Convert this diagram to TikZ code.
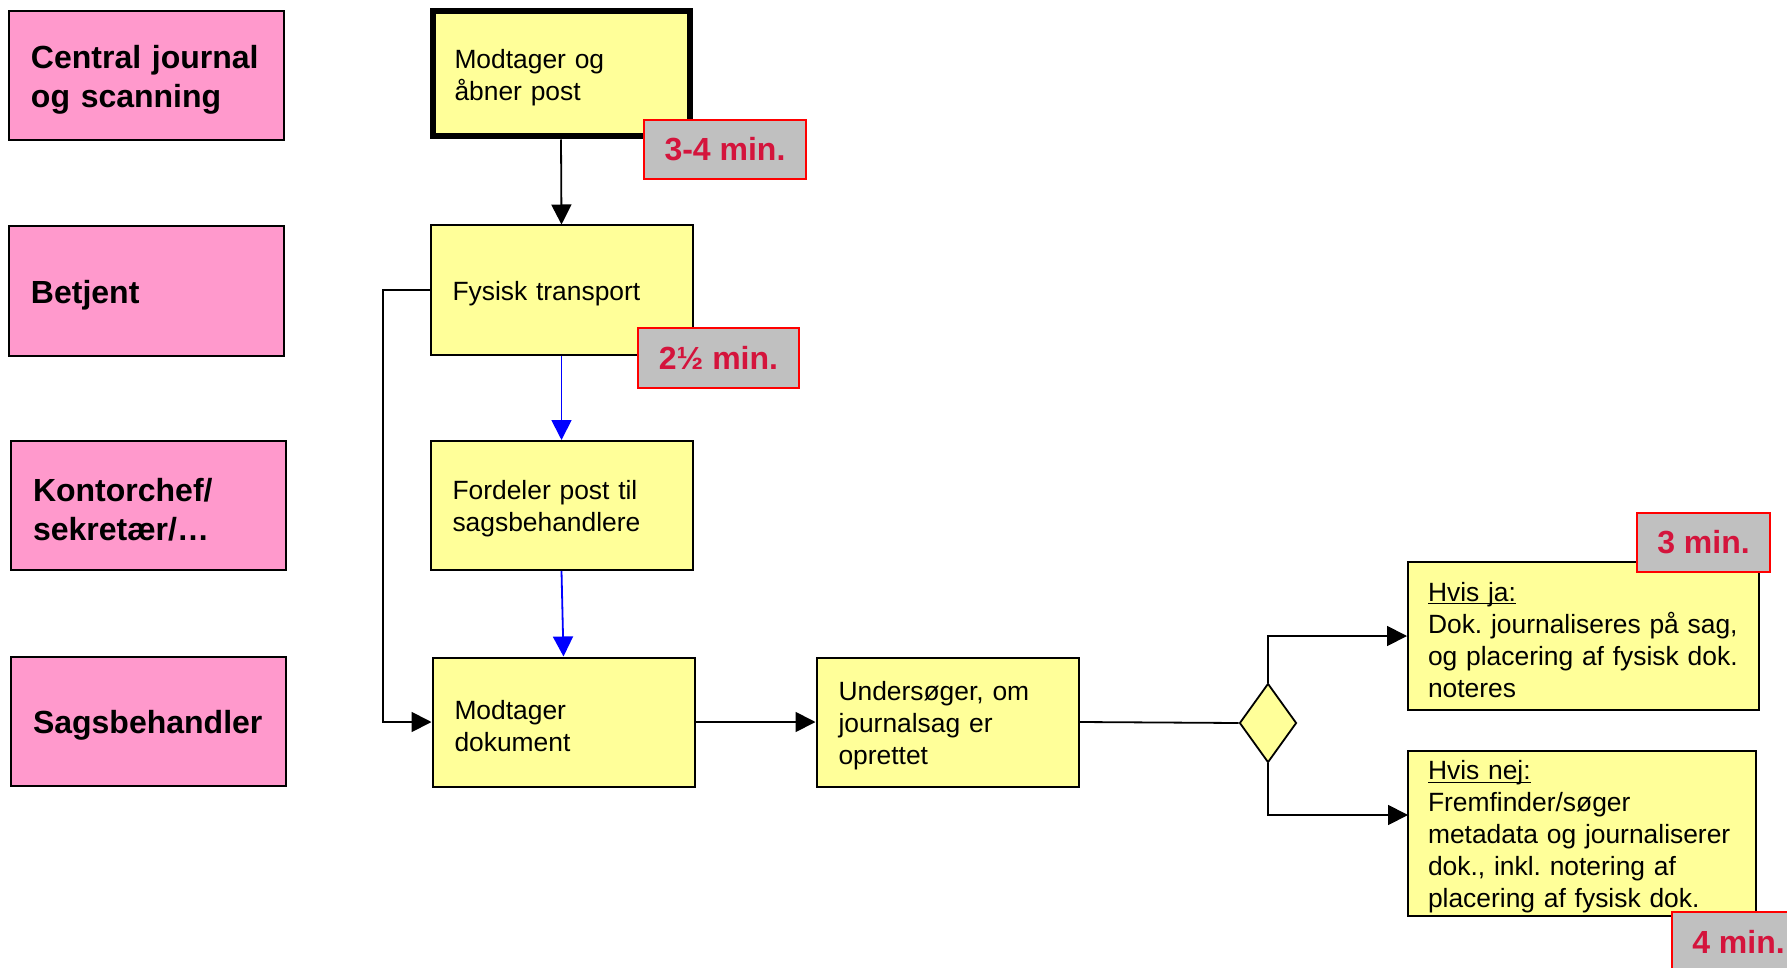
\documentclass[tikz,border=0pt]{standalone}
\usepackage{fontspec}
\setmainfont{Liberation Sans}
\usetikzlibrary{shapes.geometric,arrows.meta}
\definecolor{lanepink}{RGB}{255,153,204}
\definecolor{stepyellow}{RGB}{255,255,153}
\definecolor{timegray}{RGB}{192,192,192}
\definecolor{timered}{RGB}{212,20,60}
\definecolor{timeframe}{RGB}{255,0,0}
\definecolor{flowblue}{RGB}{0,0,255}
% underline set close to the baseline, as word processors do
\newcommand\undl[1]{\setbox0\hbox{#1}\rlap{\rule[-1.7pt]{\wd0}{0.7pt}}\box0}
\begin{document}
\frenchspacing
\begin{tikzpicture}[x=0.5pt,y=-0.5pt,
  lane/.style={draw, fill=lanepink, line width=1pt, minimum width=137.5pt,
    minimum height=64.5pt, inner xsep=11pt, inner ysep=0pt, text width=115.5pt,
    align=left, font=\fontsize{16}{19.4}\selectfont\bfseries,
    execute at begin node={\rule{0pt}{15.7pt}}},
  stepbox/.style={draw, fill=stepyellow, line width=1pt, minimum width=131pt,
    minimum height=64.5pt, inner xsep=11pt, inner ysep=0pt, text width=109pt,
    align=left, font=\fontsize{13.2}{16}\selectfont,
    execute at begin node={\rule{0pt}{13.2pt}}},
  timebox/.style={draw=timeframe, fill=timegray, line width=0.8pt, text=timered,
    minimum height=29.5pt, inner sep=0pt, font=\fontsize{16}{19}\selectfont\bfseries},
  flow/.style={line width=0.9pt, -{Triangle[length=10pt,width=10pt]}},
  plainline/.style={line width=0.9pt},
  blueflow/.style={flowblue, line width=0.9pt, -{Triangle[length=10pt,width=10pt]}}
]
\clip (0,0) rectangle (1787,968);
\fill[white] (0,0) rectangle (1787,968);

% swim-lane labels
\node[lane] (cj)  at (146.5,75.5) {Central journal\\og scanning};
\node[lane] (bet) at (146.5,291)  {Betjent};
\node[lane] (kon) at (148.5,505.5) {Kontorchef/\\sekretær/\dots};
\node[lane] (sag) at (148.5,721)  {Sagsbehandler};

% process steps
\node[stepbox, line width=3pt, minimum width=128.5pt, minimum height=62.5pt,
  text width=106.5pt] (m1) at (561,74) {Modtager og\\åbner post};
\node[stepbox] (fys)  at (561.5,290)   {Fysisk transport};
\node[stepbox] (ford) at (561.5,505.5) {Fordeler post til\\sagsbehandlere};
\node[stepbox] (md)   at (563.5,722)   {Modtager\\dokument};
\node[stepbox] (und)  at (947.5,722)   {Undersøger, om\\journalsag er\\oprettet};

% decision
\node[diamond, draw, fill=stepyellow, line width=0.9pt, minimum width=28.5pt,
  minimum height=39.5pt, inner sep=0pt] (dec) at (1268,723) {};

% outcomes
\node[stepbox, minimum width=175.5pt, minimum height=74pt, inner xsep=10pt,
  text width=155.5pt] (ja) at (1583.5,636)
  {\undl{Hvis ja:}\\Dok. journaliseres på sag,\\og placering af fysisk dok.\\noteres};
\node[stepbox, minimum width=174pt, minimum height=82.5pt, inner xsep=10pt,
  text width=154pt] (nej) at (1582,833.5)
  {\undl{Hvis nej:}\\Fremfinder/søger\\metadata og journaliserer\\dok., inkl. notering af\\placering af fysisk dok.};

% connectors
\coordinate (leftrun) at (383,0);
\coordinate (nejin) at (1408,815);
\draw[flow] (m1.south) -- (fys.north);
\draw[blueflow] (fys.south) -- (ford.north);
\draw[blueflow] (ford.south) -- (md.north);
\draw[flow] (fys.west) -| (leftrun |- md.west) -- (md.west);
\draw[flow] (md.east) -- (und.west);
\draw[plainline] (und.east) -- (dec.west);
\draw[flow] (dec.north) |- (ja.west);
\draw[flow] (dec.south) |- (nejin);

% time estimates
\node[timebox, minimum width=81pt]   (t1) at (725,149.5)  {3-4 min.};
\node[timebox, minimum width=80.5pt, minimum height=30pt] (t2) at (718.5,358) {2½ min.};
\node[timebox, minimum width=66.5pt] (t3) at (1703.5,542.5) {3 min.};
\node[timebox, minimum width=66.5pt] (t4) at (1738.5,941.5) {4 min.};
\end{tikzpicture}
\end{document}
